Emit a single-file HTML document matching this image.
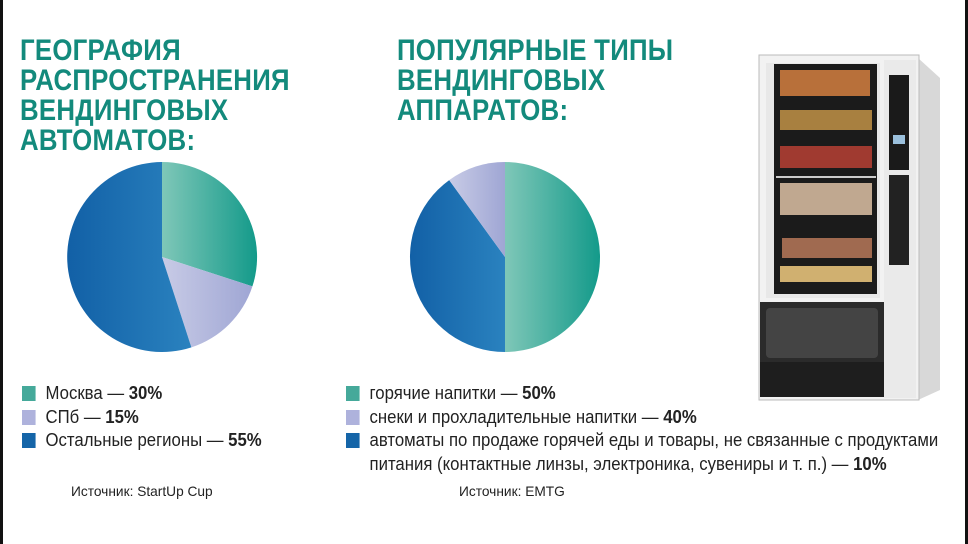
<!DOCTYPE html>
<html><head><meta charset="utf-8"><style>
body{margin:0;width:968px;height:544px;background:#fff;position:relative;overflow:hidden;font-family:"Liberation Sans","DejaVu Sans",sans-serif}
.edge{position:absolute;top:0;bottom:0;width:3px;background:#111}
.t{position:absolute;color:#138a7c;font-weight:bold;font-size:30px;line-height:30px;transform:scaleX(.86);transform-origin:0 0;white-space:nowrap;letter-spacing:.3px}
.lg{position:absolute;font-size:18.5px;color:#222;white-space:nowrap;transform:scaleX(.905);transform-origin:0 0;line-height:23.5px}
.sq{display:inline-block;width:15px;height:15px;margin-right:11px;vertical-align:-2px}
.src{position:absolute;font-size:14px;color:#222;transform:scaleX(.98);transform-origin:0 0;white-space:nowrap}
</style></head><body>
<div class="edge" style="left:0"></div><div class="edge" style="right:0"></div>
<div class="t" style="left:20px;top:36px">ГЕОГРАФИЯ<br>РАСПРОСТРАНЕНИЯ<br>ВЕНДИНГОВЫХ<br>АВТОМАТОВ:</div>
<div class="t" style="left:397px;top:36px">ПОПУЛЯРНЫЕ ТИПЫ<br>ВЕНДИНГОВЫХ<br>АППАРАТОВ:</div>
<svg width="968" height="544" style="position:absolute;left:0;top:0">
<defs>
<linearGradient id="g1" x1="0" x2="1"><stop offset="0" stop-color="#7fc7b8"/><stop offset="1" stop-color="#139a8a"/></linearGradient>
<linearGradient id="g2" x1="0" x2="1"><stop offset="0" stop-color="#c8cbe6"/><stop offset="1" stop-color="#9fa6d4"/></linearGradient>
<linearGradient id="g3" x1="0" x2="1"><stop offset="0" stop-color="#1260a6"/><stop offset="1" stop-color="#2a82bf"/></linearGradient>
</defs>
<path d="M162,257 L162,162 A95,95 0 0,1 252.4,286.4 Z" fill="url(#g1)"/>
<path d="M162,257 L252.4,286.4 A95,95 0 0,1 191.4,347.4 Z" fill="url(#g2)"/>
<path d="M162,257 L191.4,347.4 A95,95 0 1,1 162,162 Z" fill="url(#g3)"/>
<path d="M505,257 L505,162 A95,95 0 0,1 505,352 Z" fill="url(#g1)"/>
<path d="M505,257 L505,352 A95,95 0 0,1 449.2,180.1 Z" fill="url(#g3)"/>
<path d="M505,257 L449.2,180.1 A95,95 0 0,1 505,162 Z" fill="url(#g2)"/>
<polygon points="918,58 940,78 940,390 918,400" fill="#d8d8d8"/>
<rect x="759" y="55" width="160" height="345" fill="#f2f2f2" stroke="#bbb"/>
<rect x="766" y="63" width="114" height="235" fill="#e8e8e8"/>
<rect x="774" y="64" width="103" height="230" fill="#1b1b1b"/>
<rect x="780" y="70" width="90" height="26" fill="#b8703a"/>
<rect x="780" y="110" width="92" height="20" fill="#a88040"/>
<rect x="780" y="146" width="92" height="22" fill="#a03a30"/>
<rect x="780" y="183" width="92" height="32" fill="#c0a890"/>
<rect x="782" y="238" width="90" height="20" fill="#a06a50"/>
<rect x="780" y="266" width="92" height="16" fill="#d0b070"/>
<rect x="776" y="176" width="100" height="2" fill="#ccc"/>
<rect x="884" y="60" width="32" height="338" fill="#eaeaea"/>
<rect x="889" y="75" width="20" height="95" fill="#1a1a1a"/>
<rect x="893" y="135" width="12" height="9" fill="#9bc0dc"/>
<rect x="889" y="175" width="20" height="90" fill="#222"/>
<rect x="760" y="302" width="124" height="95" fill="#2b2b2b"/>
<rect x="766" y="308" width="112" height="50" rx="4" fill="#444"/>
<rect x="760" y="362" width="124" height="35" fill="#1e1e1e"/>
</svg>
<div class="lg" style="left:22px;top:381px"><span class="sq" style="background:#45a99a"></span>Москва — <b>30%</b><br><span class="sq" style="background:#aeb2dc"></span>СПб — <b>15%</b><br><span class="sq" style="background:#1565a8"></span>Остальные регионы — <b>55%</b></div>
<div class="lg" style="left:346px;top:381px"><span class="sq" style="background:#45a99a"></span>горячие напитки — <b>50%</b><br><span class="sq" style="background:#aeb2dc"></span>снеки и прохладительные напитки — <b>40%</b><br><span class="sq" style="background:#1565a8"></span>автоматы по продаже горячей еды и товары, не связанные с продуктами<br><span style="display:inline-block;width:26px"></span>питания (контактные линзы, электроника, сувениры и т. п.) — <b>10%</b></div>
<div class="src" style="left:71px;top:483px">Источник: StartUp Cup</div>
<div class="src" style="left:459px;top:483px">Источник: EMTG</div>
</body></html>
